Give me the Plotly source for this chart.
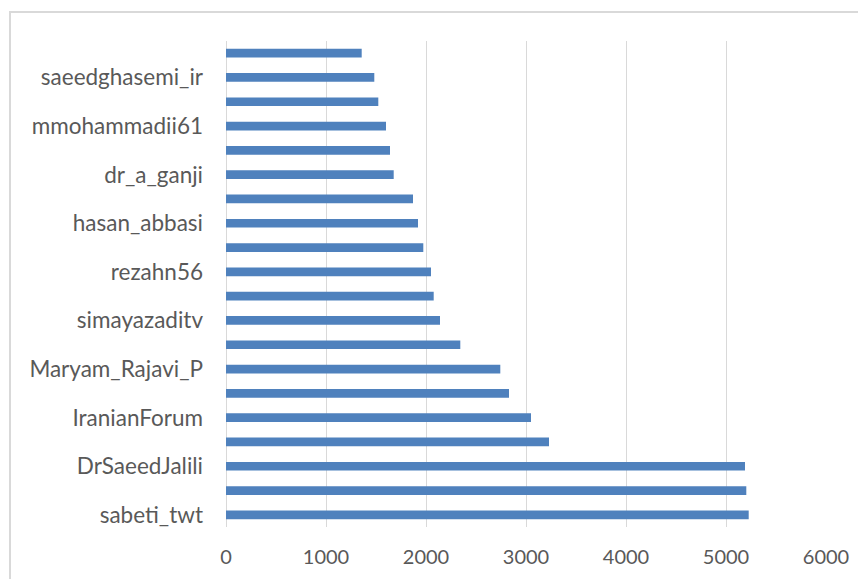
import plotly.graph_objects as go

# Categories from bottom to top (None = label not shown in the reference)
categories = [
    "sabeti_twt", None, "DrSaeedJalili", None, "IranianForum", None,
    "Maryam_Rajavi_P", None, "simayazaditv", None, "rezahn56", None,
    "hasan_abbasi", None, "dr_a_ganji", None, "mmohammadii61", None,
    "saeedghasemi_ir", None,
]
values = [
    5227, 5203, 5190, 3230, 3050, 2830,
    2743, 2343, 2140, 2077, 2050, 1973,
    1920, 1870, 1677, 1640, 1600, 1523,
    1483, 1357,
]
x_ticks = [0, 1000, 2000, 3000, 4000, 5000, 6000]

positions = list(range(len(values)))
label_pos = [i for i, c in enumerate(categories) if c]
label_txt = [c for c in categories if c]

fig = go.Figure(go.Bar(
    x=values, y=positions, orientation="h",
    marker=dict(color="#4f81bd", line=dict(width=0)),
    width=0.36,
))

W, H = 858, 571
L, R, T, B = 218, 40, 33, 52
pw, ph = W - L - R, H - T - B

font_fam = "Lato, 'Open Sans', sans-serif"
fig.update_layout(
    width=W, height=H,
    margin=dict(l=L, r=R, t=T, b=B),
    paper_bgcolor="white", plot_bgcolor="white",
    showlegend=False,
    font=dict(family=font_fam, size=20, color="#595959"),
    xaxis=dict(
        range=[0, 6000], tickvals=x_ticks, ticktext=[str(v) for v in x_ticks],
        showgrid=True, gridcolor="#d9d9d9", gridwidth=1,
        zeroline=True, zerolinecolor="#d9d9d9", zerolinewidth=1,
        showline=False, ticks="", ticklabelstandoff=16,
        tickfont=dict(size=20, color="#595959"),
    ),
    yaxis=dict(
        range=[-0.5, len(values) - 0.5],
        tickvals=label_pos, ticktext=label_txt,
        showgrid=False, zeroline=False, showline=False, ticks="",
        ticklabelstandoff=22,
        tickfont=dict(size=22.5, color="#595959"),
    ),
    shapes=[
        dict(type="line", xref="paper", yref="paper",
             x0=(1 - L) / pw, x1=(W - L) / pw + 0.02,
             y0=(H - B - 4) / ph, y1=(H - B - 4) / ph,
             line=dict(color="#d9d9d9", width=2)),
        dict(type="line", xref="paper", yref="paper",
             x0=(2 - L) / pw, x1=(2 - L) / pw,
             y0=(H - B - 4) / ph, y1=-(B + 5) / ph,
             line=dict(color="#d9d9d9", width=2)),
    ],
)

fig.write_html("out.html")
